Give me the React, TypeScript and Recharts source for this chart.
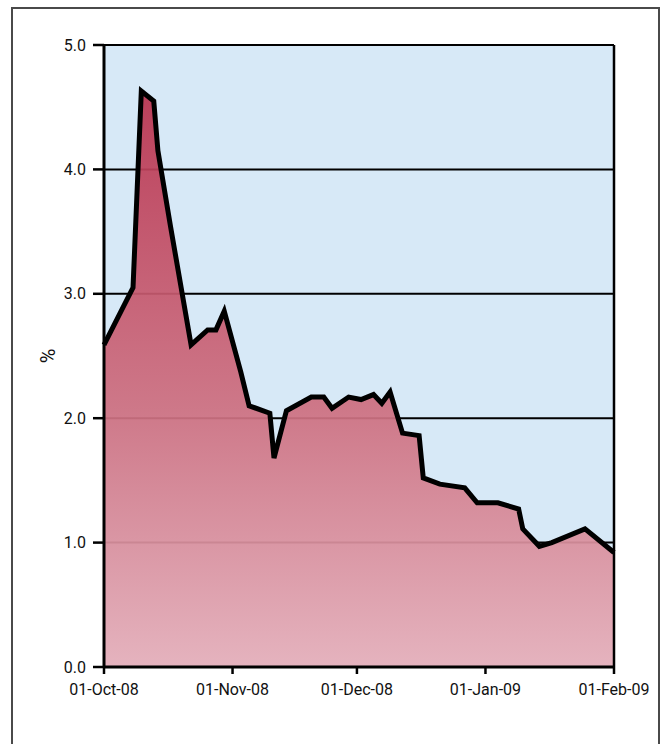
import React from 'react';
import { AreaChart, Area, XAxis, YAxis, CartesianGrid, ReferenceLine } from 'recharts';

// days since 01-Oct-08
const days = [0, 7, 9, 12, 13, 16, 21, 25, 27, 29, 33, 35, 40, 41, 44, 50, 53, 55, 59, 62, 65, 67, 69, 72, 76, 77, 81, 87, 90, 95, 100, 101, 105, 108, 116, 123];
const rates = [2.59, 3.05, 4.63, 4.55, 4.15, 3.55, 2.59, 2.71, 2.71, 2.86, 2.37, 2.1, 2.04, 1.68, 2.06, 2.17, 2.17, 2.08, 2.17, 2.15, 2.19, 2.12, 2.21, 1.88, 1.86, 1.52, 1.47, 1.44, 1.32, 1.32, 1.27, 1.11, 0.97, 1.0, 1.11, 0.92];

const xTicks = [0, 31, 61, 92, 123];
const xLabels = ['01-Oct-08', '01-Nov-08', '01-Dec-08', '01-Jan-09', '01-Feb-09'];
const yTicks = [0, 1, 2, 3, 4, 5];

const data = days.map((d, i) => ({ day: d, rate: rates[i] }));

const font = 'Roboto, "DejaVu Sans", sans-serif';

export default function App() {
  return (
    <div style={{ position: 'relative', width: 661, height: 744, overflow: 'hidden', background: '#fff' }}>
      <style>{'body { margin: 0; }'}</style>
      <div
        style={{
          position: 'absolute',
          left: 11,
          top: 7,
          width: 649,
          height: 760,
          border: '2px solid #4a4a4a',
          boxSizing: 'border-box',
        }}
      />
      <div style={{ position: 'absolute', left: 8, top: 8 }}>
        <AreaChart
          width={653}
          height={736}
          data={data}
          margin={{ top: 37, right: 47, bottom: 47, left: 0 }}
        >
          <defs>
            <linearGradient id="fillGrad" x1="0" y1="0" x2="0" y2="1">
              <stop offset="0%" stopColor="#b9334f" />
              <stop offset="55%" stopColor="#cd6f80" />
              <stop offset="100%" stopColor="#e6afba" />
            </linearGradient>
          </defs>
          <CartesianGrid
            vertical={false}
            stroke="#000"
            strokeWidth={2}
            fill="#d7e9f7"
            fillOpacity={1}
            horizontalValues={yTicks}
          />
          <XAxis
            dataKey="day"
            type="number"
            domain={[0, 123]}
            ticks={xTicks}
            tickFormatter={(v: number) => xLabels[xTicks.indexOf(v)] ?? ''}
            interval={0}
            height={30}
            tickSize={7}
            tickMargin={10}
            axisLine={{ stroke: '#000', strokeWidth: 3 }}
            tickLine={{ stroke: '#000', strokeWidth: 2.5 }}
            tick={{ fill: '#111', fontSize: 16, fontFamily: font }}
          />
          <YAxis
            type="number"
            domain={[0, 5]}
            ticks={yTicks}
            interval={0}
            width={96}
            tickSize={11}
            tickMargin={7}
            tickFormatter={(v: number) => v.toFixed(1)}
            axisLine={{ stroke: '#000', strokeWidth: 3 }}
            tickLine={{ stroke: '#000', strokeWidth: 2.5 }}
            tick={{ fill: '#111', fontSize: 16, fontFamily: font }}
            label={{
              value: '%',
              angle: -90,
              position: 'insideLeft',
              offset: 40,
              style: { textAnchor: 'middle', fill: '#111', fontSize: 20, fontFamily: font },
            }}
          />
          <ReferenceLine x={123} stroke="#000" strokeWidth={2.5} />
          <Area
            type="linear"
            dataKey="rate"
            stroke="#000"
            strokeWidth={5}
            strokeLinejoin="miter"
            fill="url(#fillGrad)"
            fillOpacity={0.93}
            dot={false}
            activeDot={false}
            isAnimationActive={false}
          />
        </AreaChart>
      </div>
    </div>
  );
}
